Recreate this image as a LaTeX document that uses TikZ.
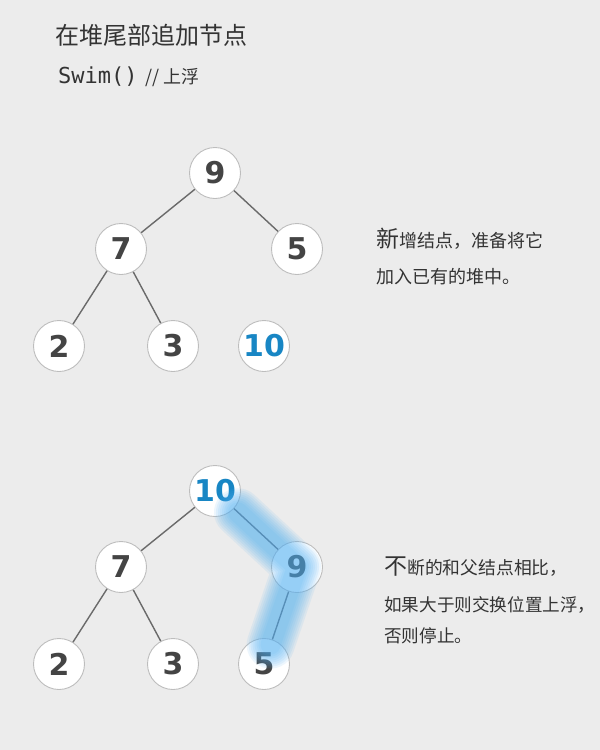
\documentclass[tikz,border=0pt]{standalone}
\usepackage{fontspec}
\setmainfont{Noto Sans CJK SC}
\newfontfamily\numfont{DejaVu Sans}
\setmonofont{DejaVu Sans Mono}
\usetikzlibrary{calc}
\definecolor{bg}{HTML}{ECECEC}
\definecolor{txt}{HTML}{333333}
\definecolor{numdark}{HTML}{444444}
\definecolor{numblue}{HTML}{1886C4}
\definecolor{ring}{HTML}{BDBDBD}
\definecolor{edgec}{HTML}{6A6A6A}
\definecolor{glowc}{HTML}{4FB0F5}
\tikzset{
  heapnode/.style={circle, draw=ring, line width=0.9pt, fill=white, minimum size=51pt, inner sep=0pt,
    font=\numfont\bfseries\fontsize{30}{30}\selectfont, text=numdark},
  bluenum/.style={text=numblue},
  treeedge/.style={draw=edgec, line width=1.4pt},
  note/.style={anchor=west, inner sep=0pt, text=txt},
}
\begin{document}
\begin{tikzpicture}[x=1pt,y=-1pt]
\fill[bg] (0,0) rectangle (600,750);
\useasboundingbox (0,0) rectangle (600,750);

% title
\node[note, font=\fontsize{24}{24}\selectfont] (title) at (55,35) {在堆尾部追加节点};
\node[note] (swim) at (58,77) {{\ttfamily\fontsize{22}{22}\selectfont Swim()}\hspace{8pt}{\fontsize{18}{18}\selectfont // 上浮}};

% top tree
\node[heapnode] (a9) at (215,173) {9};
\node[heapnode] (a7) at (121,249) {7};
\node[heapnode] (a5) at (297,249) {5};
\node[heapnode] (a2) at (59,346) {2};
\node[heapnode] (a3) at (173,346) {3};
\node[heapnode, bluenum] (a10) at (264,346) {10};
\draw[treeedge] (a9) -- (a7);
\draw[treeedge] (a9) -- (a5);
\draw[treeedge] (a7) -- (a2);
\draw[treeedge] (a7) -- (a3);

\node[note] (t1) at (376,239) {{\fontsize{23}{23}\selectfont 新}{\fontsize{18}{18}\selectfont 增结点，准备将它}};
\node[note, font=\fontsize{18}{18}\selectfont] (t2) at (376,277) {加入已有的堆中。};

% bottom tree
\node[heapnode, bluenum] (b10) at (215,491) {10};
\node[heapnode] (b7) at (121,567) {7};
\node[heapnode] (b9) at (297,567) {9};
\node[heapnode] (b2) at (59,664) {2};
\node[heapnode] (b3) at (173,664) {3};
\node[heapnode] (b5) at (264,664) {5};
\draw[treeedge] (b10) -- (b7);
\draw[treeedge] (b10) -- (b9);
\draw[treeedge] (b7) -- (b2);
\draw[treeedge] (b7) -- (b3);
\draw[treeedge] (b9) -- (b5);

% glow along swim path
\coordinate (g1) at ($(b10)!0.28!(b9)$);
\coordinate (g2) at ($(b5)!0.20!(b9)$);
\foreach \w in {48,44,40,36,32,28,24,20} {
  \draw[glowc, line width=\w pt, line cap=round, line join=round, opacity=0.10] (g1) -- (b9.center) -- (g2);
}

\node[note] (t3) at (384,567) {{\fontsize{23}{23}\selectfont 不}{\fontsize{17.8}{17.8}\selectfont 断的和父结点相比，}};
\node[note, font=\fontsize{17.6}{17.6}\selectfont] (t4) at (384,605) {如果大于则交换位置上浮，};
\node[note, font=\fontsize{17.6}{17.6}\selectfont] (t5) at (384,636) {否则停止。};
\end{tikzpicture}
\end{document}
